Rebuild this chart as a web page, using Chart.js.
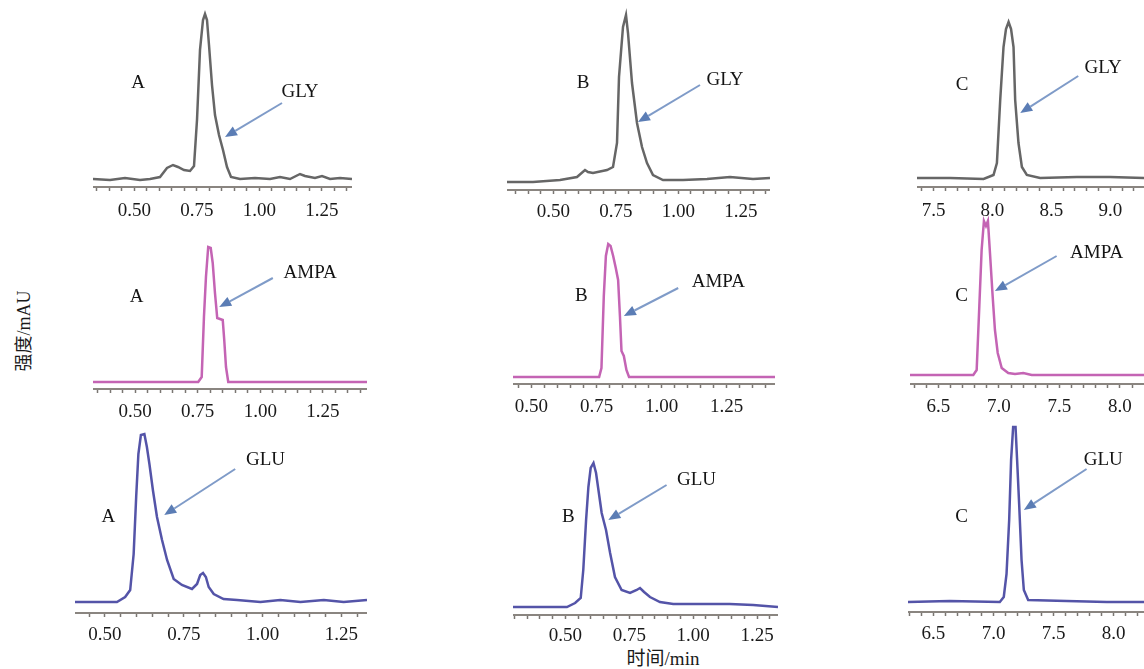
<!DOCTYPE html>
<html><head><meta charset="utf-8">
<script src="https://cdn.jsdelivr.net/npm/chart.js@4.4.0/dist/chart.umd.min.js"></script>
<style>
html,body{margin:0;padding:0;background:#fff;width:1144px;height:669px;overflow:hidden;position:relative;font-family:"Liberation Serif","Noto Sans CJK SC",serif;}
canvas.p{position:absolute;}
#ytitle{position:absolute;left:22px;top:331px;transform:translate(-50%,-50%) rotate(-90deg);font-size:18px;white-space:nowrap;color:#1a1a1a;}
#xtitle{position:absolute;left:663px;top:656px;transform:translate(-50%,-50%);font-size:19px;white-space:nowrap;color:#1a1a1a;}
</style></head><body>
<div id="ytitle">强度/mAU</div>
<div id="xtitle">时间/min</div>
<script>
// ---------- data (retention time in min, intensity in mAU) ----------
const glyA_time = [0.335,0.403,0.463,0.523,0.563,0.603,0.631,0.655,0.675,0.699,0.723,0.739,0.751,0.763,0.775,0.783,0.791,0.799,0.811,0.823,0.839,0.855,0.871,0.887,0.923,0.983,1.043,1.083,1.123,1.163,1.183,1.223,1.251,1.283,1.323,1.371];
const glyA_int  = [8,7,9,7,8,10,19,22,20,17,16,21,67,137,167,173,167,142,102,72,52,37,20,10,8,9,8,10,8,13,11,9,11,8,9,8];
const glyB_time = [0.315,0.419,0.527,0.595,0.627,0.639,0.659,0.715,0.739,0.755,0.763,0.779,0.791,0.799,0.815,0.835,0.855,0.875,0.899,0.939,1.019,1.115,1.207,1.299,1.367];
const glyB_int  = [8,8,10,13,20,18,17,20,23,47,113,163,175,157,107,67,43,27,15,10,10,11,13,11,12];
const glyC_time = [7.36,7.642,7.925,8.009,8.038,8.066,8.094,8.115,8.137,8.158,8.179,8.193,8.221,8.25,8.292,8.405,8.716,8.998,9.286];
const glyC_int  = [9,9,8,12,24,87,140,158,165,158,140,87,44,20,12,9,10,10,9];
const ampaA_time = [0.332,0.752,0.766,0.775,0.783,0.792,0.802,0.810,0.819,0.828,0.839,0.850,0.856,0.863,0.872,1.426];
const ampaA_int  = [7,7,12,72,112,142,141,126,96,71,70,69,49,22,7,7];
const ampaB_time = [0.429,0.760,0.769,0.778,0.786,0.795,0.804,0.814,0.824,0.833,0.840,0.846,0.855,0.865,0.875,1.436];
const ampaB_int  = [7,7,16,88,128,140,138,128,116,104,68,33,28,14,7,7];
const ampaC_time = [6.265,6.788,6.816,6.838,6.857,6.876,6.893,6.909,6.926,6.948,6.967,6.990,7.023,7.077,7.133,7.201,7.271,8.199];
const ampaC_int  = [9,9,14,78,134,163,158,163,131,88,54,31,16,11,10,11,9,9];
const gluA_time = [0.405,0.485,0.538,0.564,0.580,0.591,0.599,0.606,0.614,0.625,0.633,0.641,0.652,0.665,0.681,0.697,0.718,0.744,0.776,0.792,0.802,0.811,0.820,0.829,0.845,0.876,0.919,0.993,1.056,1.120,1.194,1.257,1.331];
const gluA_int  = [11,11,11,16,23,59,116,159,178,179,166,149,123,96,73,53,34,28,24,29,38,40,36,26,19,14,13,11,13,11,13,11,13];
const gluB_time = [0.295,0.506,0.538,0.560,0.570,0.581,0.590,0.599,0.610,0.620,0.631,0.642,0.659,0.675,0.694,0.720,0.753,0.779,0.792,0.808,0.831,0.870,0.922,1.026,1.143,1.235,1.332];
const gluB_int  = [8,8,12,17,45,95,128,147,152,142,122,102,85,62,38,25,22,25,27,23,18,13,11,11,11,10,8];
const gluC_time = [6.288,6.635,7.052,7.085,7.108,7.130,7.146,7.163,7.183,7.196,7.213,7.233,7.252,7.288,7.608,7.941,8.252];
const gluC_int  = [10,11,10,15,38,92,152,185,185,152,108,52,22,12,11,10,10];

// tick labels
const ticksShort = ['0.50','0.75','1.00','1.25'];
const ticksGlyC  = ['7.5','8.0','8.5','9.0'];
const ticksLongC = ['6.5','7.0','7.5','8.0'];

// ---------- layout / styling ----------
const COL_GLY = '#666666', COL_AMPA = '#c464b4', COL_GLU = '#5454a8';
const panels = [
  {t:glyA_time,i:glyA_int,c:COL_GLY,left:93,right:352,top:0,axisY:187,xmin:0.335,xmax:1.371,minor:0.05,dec:2,labels:ticksShort,pad:9,
   ann:{letter:[0.515,104,'A'],name:[1.163,95,'GLY'],arrow:[1.091,84,0.863,50]}},
  {t:glyB_time,i:glyB_int,c:COL_GLY,left:507,right:770,top:0,axisY:190,xmin:0.315,xmax:1.367,minor:0.05,dec:2,labels:ticksShort,pad:7,
   ann:{letter:[0.619,107,'B'],name:[1.187,110,'GLY'],arrow:[1.087,105,0.839,68]}},
  {t:glyC_time,i:glyC_int,c:COL_GLY,left:917,right:1144,top:0,axisY:187,xmin:7.36,xmax:9.286,minor:0.1,dec:1,labels:ticksGlyC,pad:9,
   ann:{letter:[7.742,102,'C'],name:[8.939,119,'GLY'],arrow:[8.728,111,8.236,74]}},
  {t:ampaA_time,i:ampaA_int,c:COL_AMPA,left:93,right:367,top:214,axisY:389,xmin:0.332,xmax:1.426,minor:0.05,dec:2,labels:ticksShort,pad:8,
   ann:{letter:[0.506,92,'A'],name:[1.199,116,'AMPA'],arrow:[1.050,111,0.836,82]}},
  {t:ampaB_time,i:ampaB_int,c:COL_AMPA,left:513,right:775,top:214,axisY:384,xmin:0.429,xmax:1.436,minor:0.05,dec:2,labels:ticksShort,pad:8,
   ann:{letter:[0.692,88,'B'],name:[1.218,102,'AMPA'],arrow:[1.064,96,0.855,68]}},
  {t:ampaC_time,i:ampaC_int,c:COL_AMPA,left:910,right:1144,top:214,axisY:384,xmin:6.265,xmax:8.199,minor:0.1,dec:1,labels:ticksLongC,pad:8,
   ann:{letter:[6.692,88,'C'],name:[7.808,131,'AMPA'],arrow:[7.477,128,6.967,93]}},
  {t:gluA_time,i:gluA_int,c:COL_GLU,left:75,right:367,top:418,axisY:613,xmin:0.405,xmax:1.331,minor:0.05,dec:2,labels:ticksShort,pad:7,
   ann:{letter:[0.511,96,'A'],name:[1.009,153,'GLU'],arrow:[0.913,144,0.688,98]}},
  {t:gluB_time,i:gluB_int,c:COL_GLU,left:513,right:778,top:418,axisY:615,xmin:0.295,xmax:1.332,minor:0.05,dec:2,labels:ticksShort,pad:6,
   ann:{letter:[0.512,98,'B'],name:[1.013,135,'GLU'],arrow:[0.896,130,0.668,95]}},
  {t:gluC_time,i:gluC_int,c:COL_GLU,left:908,right:1144,top:418,axisY:612,xmin:6.288,xmax:8.252,minor:0.1,dec:1,labels:ticksLongC,pad:7,
   ann:{letter:[6.733,95,'C'],name:[7.913,152,'GLU'],arrow:[7.774,143,7.252,102]}}
];
const AXIS_H = 40;

const annPlugin = {
  id:'ann',
  afterDatasetsDraw(chart, args, o){
    if(!o || !o.letter) return;
    const {ctx} = chart, x = chart.scales.x, y = chart.scales.y;
    const P = (a,b)=>[x.getPixelForValue(a), y.getPixelForValue(b)];
    ctx.save();
    ctx.fillStyle = '#141414';
    ctx.font = '19px "Liberation Serif"';
    ctx.textAlign = 'center'; ctx.textBaseline = 'middle';
    let p = P(o.letter[0], o.letter[1]); ctx.fillText(o.letter[2], p[0], p[1]);
    p = P(o.name[0], o.name[1]); ctx.fillText(o.name[2], p[0], p[1]);
    const s = P(o.arrow[0], o.arrow[1]), e = P(o.arrow[2], o.arrow[3]);
    const ang = Math.atan2(e[1]-s[1], e[0]-s[0]), hl = 12, hw = 5;
    const bx = e[0]-hl*Math.cos(ang), by = e[1]-hl*Math.sin(ang);
    ctx.strokeStyle = '#7f9bc8'; ctx.lineWidth = 2;
    ctx.beginPath(); ctx.moveTo(s[0], s[1]); ctx.lineTo(bx, by); ctx.stroke();
    ctx.fillStyle = '#5b7db5';
    ctx.beginPath(); ctx.moveTo(e[0], e[1]);
    ctx.lineTo(bx - hw*Math.sin(ang), by + hw*Math.cos(ang));
    ctx.lineTo(bx + hw*Math.sin(ang), by - hw*Math.cos(ang));
    ctx.closePath(); ctx.fill();
    ctx.restore();
  }
};

panels.forEach((p, k) => {
  const cv = document.createElement('canvas');
  cv.className = 'p';
  const w = p.right - p.left, h = (p.axisY - p.top) + AXIS_H;
  cv.width = w; cv.height = h;
  cv.style.left = p.left + 'px'; cv.style.top = p.top + 'px';
  cv.style.width = w + 'px'; cv.style.height = h + 'px';
  document.body.appendChild(cv);
  new Chart(cv, {
    type: 'line',
    data: { datasets: [{ data: p.t.map((v, j) => ({x: v, y: p.i[j]})), borderColor: p.c, borderWidth: 2.5,
      pointRadius: 0, tension: 0, fill: false }] },
    options: {
      responsive: false, animation: false, devicePixelRatio: 1,
      layout: { padding: 0, autoPadding: false },
      plugins: { legend: {display: false}, tooltip: {enabled: false}, ann: p.ann },
      scales: {
        y: { display: false, min: 0, max: p.axisY - p.top },
        x: { type: 'linear', min: p.xmin, max: p.xmax,
          afterFit: s => { s.height = AXIS_H; s.paddingLeft = 0; s.paddingRight = 0; },
          afterBuildTicks: s => {
            const arr = [];
            for (let n = Math.ceil(p.xmin / p.minor - 1e-9); n * p.minor <= p.xmax + 1e-9; n++) arr.push({value: +(n * p.minor).toFixed(4)});
            s.ticks = arr;
          },
          grid: { drawOnChartArea: false, drawTicks: true, tickLength: 4, tickWidth: 1.5, tickColor: '#7a7672' },
          border: { display: true, width: 2, color: '#8a8580' },
          ticks: { autoSkip: false, maxRotation: 0, padding: p.pad, color: '#1a1a1a',
            font: { family: 'Liberation Serif', size: 19 },
            callback: v => { const l = Number(v).toFixed(p.dec); return p.labels.includes(l) ? l : ''; } }
        }
      }
    },
    plugins: [annPlugin]
  });
});
</script>
</body></html>
